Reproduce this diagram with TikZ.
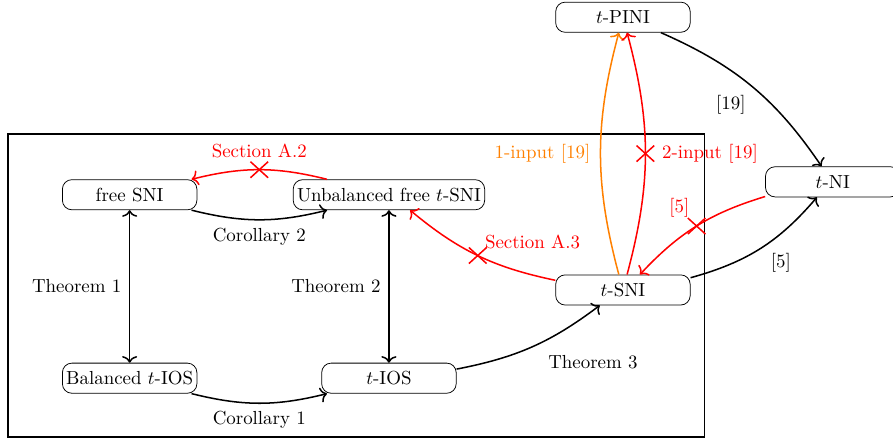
\documentclass[tikz,border=0pt]{standalone}
\usepackage{amsmath}
\usetikzlibrary{positioning, shapes.misc, arrows.meta}

\begin{document}
\begin{tikzpicture}[every node/.style={inner sep=2pt}, >={To[length=3.5pt, width=8pt]},
    notion/.style={draw, rounded corners=5pt, minimum width=2.5cm, minimum height=0.56cm},
    link/.style={->, thick},
    biglink/.style={<->, thick},
    broken/.style={draw=red, thick, cross out, minimum width=0.3cm, minimum height=0.27cm, inner sep=0pt}]

    \useasboundingbox (0,0) rectangle (16.6,8.16);

    % 1. frame round the left group
    \draw[thick] (0.15,0.04) rectangle (13.10,5.67);

    % 2. notions
    \node[notion] (freeSNI) at (2.41, 4.54) {free SNI};
    \node[notion] (unbSNI) at (7.23, 4.54) {Unbalanced free $t$-SNI};
    \node[notion] (balIOS) at (2.41, 1.13) {Balanced $t$-IOS};
    \node[notion] (tIOS) at (7.23, 1.13) {$t$-IOS};
    \node[notion] (tSNI) at (11.58, 2.77) {$t$-SNI};
    \node[notion] (tPINI) at (11.58, 7.84) {$t$-PINI};
    \node[notion] (tNI) at (15.48, 4.78) {$t$-NI};

    % 3. implications
    \draw[biglink] (freeSNI) -- node[left=2pt] (thmA) {Theorem 1} (balIOS);
    \draw[biglink] (unbSNI) -- node[left=2pt] (thmB) {Theorem 2} (tIOS);
    \draw[link] (freeSNI) to[bend right=14] node[below=2pt] (corB) {Corollary 2} (unbSNI);
    \draw[link] (balIOS) to[bend right=14] node[below=2pt] (corA) {Corollary 1} (tIOS);
    \draw[link] (tIOS) to[bend right=13] node[below right=2pt and 6pt] (thmC) {Theorem 3} (tSNI);
    \draw[link] (tSNI) to[bend right=17] node[below right=0pt and 3pt] (refB) {[5]} (tNI);
    \draw[link] (tPINI) to[bend left=16] node[below left=2pt and 1pt] (refA) {[19]} (tNI);
    \draw[link, orange] (tSNI) to[bend left=15] node[left=3pt] (oneIn) {1-input [19]} (tPINI);

    % 4. separations (crossed out)
    \draw[link, red] (unbSNI) to[bend right=14] node[broken] (xA) {} (freeSNI);
    \draw[link, red] (tSNI) to[bend left=14] node[broken] (xB) {} (unbSNI);
    \draw[link, red] (tSNI) to[bend right=15] node[broken] (xC) {} (tPINI);
    \draw[link, red] (tNI) to[bend right=15] node[broken] (xD) {} (tSNI);

    \node[red, above=0pt of xA] (secA) {Section A.2};
    \node[red, above right=-3pt and -3pt of xB] (secB) {Section A.3};
    \node[red, right=2pt of xC] (twoIn) {2-input [19]};
    \node[red, above left=-2pt and -3pt of xD] (refC) {[5]};

\end{tikzpicture}
\end{document}
